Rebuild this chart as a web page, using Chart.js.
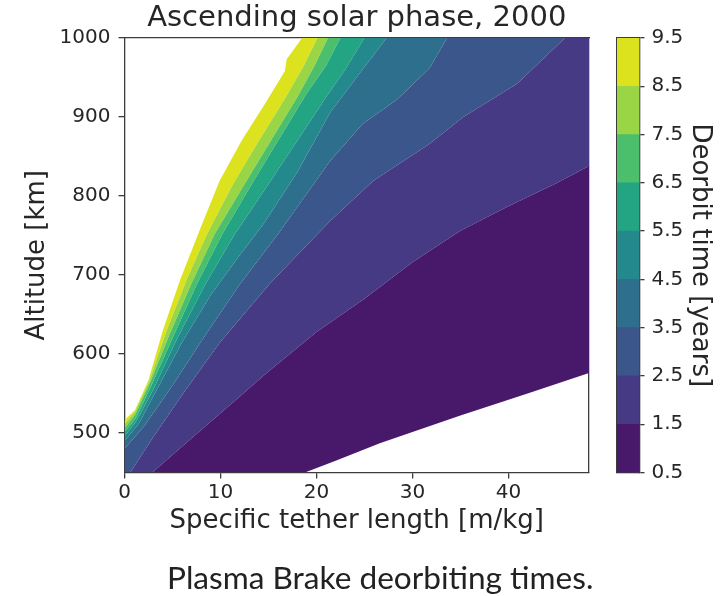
<!DOCTYPE html>
<html>
<head>
<meta charset="utf-8">
<script src="https://cdn.jsdelivr.net/npm/chart.js@4.4.1/dist/chart.umd.min.js"></script>
<style>
  html, body { margin: 0; padding: 0; background: #fff; }
  body { width: 727px; height: 596px; position: relative; overflow: hidden; }
  canvas { position: absolute; left: 0; top: 0; }
  #caption { position: absolute; left: 167px; top: 562px; font: 31.6px Lato, sans-serif; line-height: 31px; color: #222; white-space: nowrap; }
</style>
</head>
<body>
<canvas id="plot" width="727" height="596"></canvas>
<canvas id="cbar" width="727" height="596"></canvas>
<div id="caption">Plasma Brake deorbiting times.</div>
<script>
const FONT = 'DejaVu Sans'
const INK = '#262626'
const AXIS = '#3c3c3c'

// deorbit time contour levels [years]
const levels = [0.5, 1.5, 2.5, 3.5, 4.5, 5.5, 6.5, 7.5, 8.5, 9.5]
const bandColors = ['#48186a', '#463a85', '#3b568b', '#2e6f8e', '#23898d', '#23a584', '#4bbf6c', '#9ad545', '#dde21f']

// contour lines: specific tether length [m/kg] -> altitude [km], clamped where they leave the frame
const c05x = [0, 18.8, 22, 26.6, 35, 42, 48.4]
const c05y = [450, 450, 465, 487, 522, 550, 576]
const c15x = [0, 2.9, 6, 10, 15, 20, 25, 30, 35, 40, 45, 48.4]
const c15y = [450, 450, 483, 525, 578, 628, 670, 716, 756, 787, 816, 838]
const c25x = [0, 0.6, 3, 6, 9.9, 15.2, 21.4, 25.9, 31.8, 35.3, 40.9, 45.9, 48.4]
const c25y = [450, 450, 495, 548, 614, 690, 768, 819, 866, 900, 942, 1000, 1000]
const c35x = [0, 2, 5, 8, 12, 16, 21.4, 24.8, 28.4, 31.8, 33.6, 48.4]
const c35y = [480, 508, 560, 616, 688, 752, 844, 891, 922, 962, 1000, 1000]
const c45x = [0, 1.5, 3.5, 6, 9, 12, 14.5, 18, 21.4, 24.8, 27.3, 48.4]
const c45y = [490, 512, 558, 615, 675, 725, 765, 830, 905, 960, 1000, 1000]
const c55x = [0, 1.3, 3, 5.5, 8.5, 11.5, 15, 18, 21, 23, 25, 48.4]
const c55y = [496, 516, 555, 620, 690, 752, 815, 870, 925, 960, 1000, 1000]
const c65x = [0, 1.2, 2.8, 5, 7.6, 10.2, 13.5, 16.5, 19, 21, 22.5, 48.4]
const c65y = [501, 519, 560, 620, 690, 752, 820, 880, 930, 965, 1000, 1000]
const c75x = [0, 1.1, 2.7, 4.7, 7, 9.4, 12.5, 15.5, 18, 19.8, 21.2, 48.4]
const c75y = [506, 523, 565, 625, 690, 752, 815, 875, 925, 965, 1000, 1000]
const c85x = [0, 1.1, 2.6, 4.4, 6.5, 8.6, 11.3, 14, 16.8, 18.6, 20.1, 48.4]
const c85y = [511, 527, 566, 630, 695, 752, 815, 870, 925, 963, 1000, 1000]
const c95x = [0, 1.1, 2.5, 4.0, 5.8, 7.9, 9.9, 12.2, 14.8, 16.7, 16.9, 18.5, 48.4]
const c95y = [516, 529, 567, 630, 694, 759, 819, 870, 920, 958, 973, 1000, 1000]

const xTicks = [0, 10, 20, 30, 40]
const yTicks = [500, 600, 700, 800, 900, 1000]
const cbarTicks = levels

const contours = [[c05x, c05y], [c15x, c15y], [c25x, c25y], [c35x, c35y], [c45x, c45y],
                  [c55x, c55y], [c65x, c65y], [c75x, c75y], [c85x, c85y], [c95x, c95y]]

const font = size => ({ family: FONT, size })
const setTicks = vals => s => { s.ticks = vals.map(v => ({ value: v })) }
const plain = v => String(v)
const frame = { color: AXIS, width: 1.3 }

new Chart(document.getElementById('plot'), {
  type: 'line',
  data: {
    datasets: contours.map(([xs, ys], i) => ({
      label: levels[i] + ' years',
      data: xs.map((x, j) => ({ x, y: ys[j] })),
      fill: i === 0 ? false : '-1',
      backgroundColor: i === 0 ? 'rgba(0,0,0,0)' : bandColors[i - 1],
      borderWidth: 0, pointRadius: 0, tension: 0,
      xAxisID: 'x', yAxisID: 'y',
    })),
  },
  options: {
    animation: false, responsive: false, events: [],
    layout: { padding: { left: 0, top: 0, right: 138, bottom: 0 } },
    plugins: { legend: { display: false }, tooltip: { enabled: false }, filler: { propagate: false } },
    scales: {
      x: {
        type: 'linear', position: 'bottom', min: 0, max: 48.4,
        afterBuildTicks: setTicks(xTicks), afterFit: s => { s.height = 123.5 },
        grid: { drawOnChartArea: false, tickLength: 6, color: AXIS, lineWidth: 1.3 },
        border: frame,
        ticks: { font: font(20), color: INK, padding: 2, maxRotation: 0, autoSkip: false, callback: plain },
        title: { display: true, text: 'Specific tether length [m/kg]', font: font(26), color: INK, padding: { top: 0, bottom: 59 } },
      },
      xTop: {
        type: 'linear', position: 'top', min: 0, max: 48.4,
        afterFit: s => { s.height = 38 },
        grid: { display: false }, ticks: { display: false }, border: frame,
        title: { display: true, text: 'Ascending solar phase, 2000', font: font(29), color: INK, padding: { top: 1, bottom: 0 } },
      },
      y: {
        type: 'linear', position: 'left', min: 450, max: 1000,
        afterBuildTicks: setTicks(yTicks), afterFit: s => { s.width = 124.5 },
        grid: { drawOnChartArea: false, tickLength: 6, color: AXIS, lineWidth: 1.3 },
        border: frame,
        ticks: { font: font(20), color: INK, padding: 8, autoSkip: false, callback: plain },
        title: { display: true, text: 'Altitude [km]', font: font(26), color: INK, padding: { top: 22, bottom: 0 } },
      },
      yRight: {
        type: 'linear', position: 'right', min: 450, max: 1000,
        afterFit: s => { s.width = 0 },
        grid: { display: false }, ticks: { display: false }, border: frame,
      },
    },
  },
})

new Chart(document.getElementById('cbar'), {
  type: 'bar',
  data: {
    labels: [''],
    datasets: bandColors.map((c, i) => ({
      label: levels[i] + '-' + levels[i + 1],
      data: [[levels[i], levels[i + 1]]],
      backgroundColor: c, borderWidth: 0, grouped: false,
      barPercentage: 1, categoryPercentage: 1,
      xAxisID: 'x', yAxisID: 'y',
    })),
  },
  options: {
    animation: false, responsive: false, events: [],
    layout: { padding: { left: 617, top: 0, right: 0, bottom: 0 } },
    plugins: { legend: { display: false }, tooltip: { enabled: false } },
    scales: {
      x: {
        type: 'category', position: 'bottom',
        afterFit: s => { s.height = 123.5 },
        grid: { display: false }, ticks: { display: false }, border: frame,
      },
      xTop: {
        type: 'category', position: 'top',
        afterFit: s => { s.height = 38 },
        grid: { display: false }, ticks: { display: false }, border: frame,
      },
      y: {
        type: 'linear', position: 'right', min: 0.5, max: 9.5,
        afterBuildTicks: setTicks(cbarTicks), afterFit: s => { s.width = 87.5 },
        grid: { drawOnChartArea: false, tickLength: 5, color: AXIS, lineWidth: 1.3 },
        border: frame,
        ticks: { font: font(20), color: INK, padding: 7, autoSkip: false, callback: plain },
        title: { display: true, text: 'Deorbit time [years]', font: font(26), color: INK, padding: { top: 11.5, bottom: 0 } },
      },
      yLeft: {
        type: 'linear', position: 'left', min: 0.5, max: 9.5,
        afterFit: s => { s.width = 0 },
        grid: { display: false }, ticks: { display: false }, border: frame,
      },
    },
  },
})
</script>
</body>
</html>
